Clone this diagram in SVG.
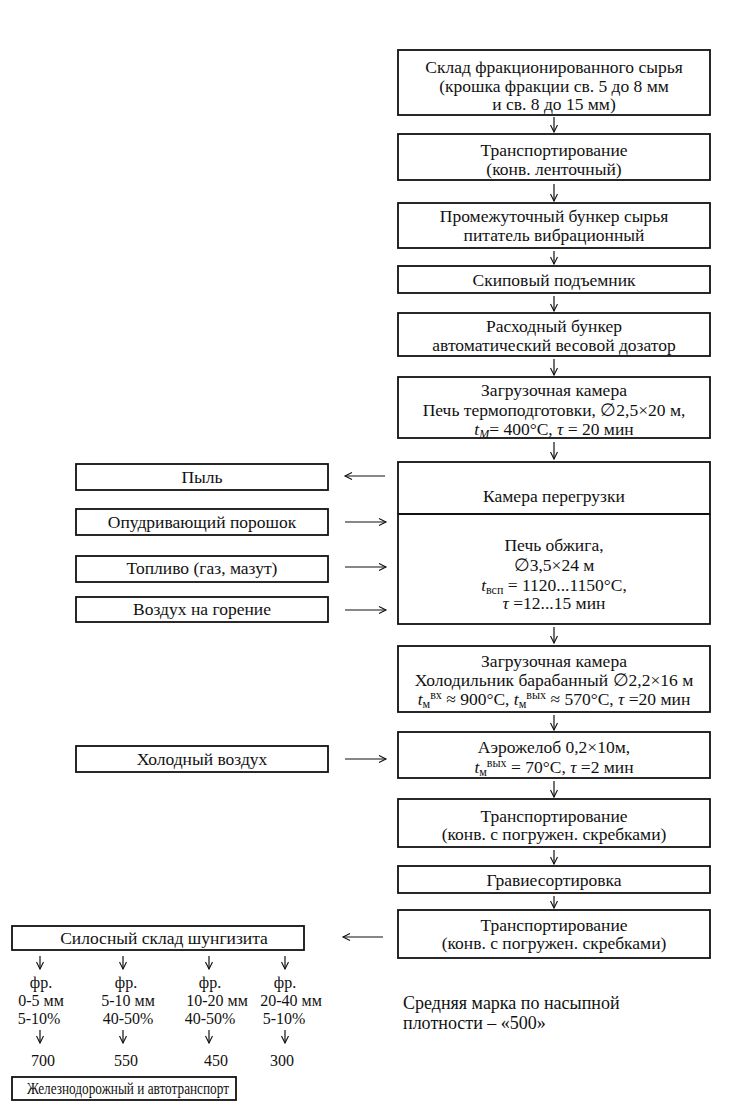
<svg xmlns="http://www.w3.org/2000/svg" width="730" height="1113" viewBox="0 0 730 1113">
<style>
text{font-family:"Liberation Serif","Times New Roman",serif;font-size:17.5px;fill:#111;text-anchor:middle}
.b{fill:#fff;stroke:#111;stroke-width:1.8}
.c{fill:none;stroke:#111;stroke-width:1.2}
.s{font-size:12px}
.l{text-anchor:start;font-size:18px}
.f{font-size:16px}
</style>
<defs>
<marker id="a" markerWidth="10" markerHeight="10" refX="8" refY="4" orient="auto" markerUnits="userSpaceOnUse">
<path d="M1,0.5 L8,4 L1,7.5" fill="none" stroke="#111" stroke-width="1.1"/>
</marker>
</defs>
<rect width="730" height="1113" fill="#fff"/>
<g id="n1"><rect class="b" x="398" y="50" width="312" height="65"/><text x="554" y="73">Склад фракционированного сырья</text><text x="554" y="92">(крошка фракции св. 5 до 8 мм</text><text x="554" y="110">и св. 8 до 15 мм)</text></g>
<g id="n2"><rect class="b" x="398" y="134" width="312" height="46"/><text x="554" y="156">Транспортирование</text><text x="554" y="175">(конв. ленточный)</text></g>
<g id="n3"><rect class="b" x="398" y="203" width="312" height="45"/><text x="554" y="222">Промежуточный бункер сырья</text><text x="554" y="241">питатель вибрационный</text></g>
<g id="n4"><rect class="b" x="398" y="266" width="312" height="27"/><text x="554" y="286">Скиповый подъемник</text></g>
<g id="n5"><rect class="b" x="398" y="313" width="312" height="43"/><text x="554" y="332">Расходный бункер</text><text x="554" y="351">автоматический весовой дозатор</text></g>
<g id="n6"><rect class="b" x="398" y="377" width="312" height="61"/><text x="554" y="396">Загрузочная камера</text><text x="554" y="416">Печь термоподготовки, ∅2,5×20 м,</text><text x="554" y="435"><tspan font-style="italic">t<tspan class="s" dy="3">M</tspan></tspan><tspan dy="-3">= 400°C, </tspan><tspan font-style="italic">τ</tspan> = 20 мин</text></g>
<g id="n7"><rect class="b" x="398" y="462" width="312" height="162"/><line class="b" x1="398" y1="514" x2="710" y2="514"/><text x="554" y="502">Камера перегрузки</text><text x="554" y="551">Печь обжига,</text><text x="554" y="571">∅3,5×24 м</text><text x="554" y="591"><tspan font-style="italic">t</tspan><tspan class="s" dy="3">всп</tspan><tspan dy="-3"> = 1120...1150°C,</tspan></text><text x="554" y="609"><tspan font-style="italic">τ</tspan> =12...15 мин</text></g>
<g id="n8"><rect class="b" x="398" y="646" width="312" height="66"/><text x="554" y="667">Загрузочная камера</text><text x="554" y="686">Холодильник барабанный ∅2,2×16 м</text><text x="554" y="705"><tspan font-style="italic">t</tspan><tspan class="s" dy="3">м</tspan><tspan class="s" dy="-9">вх</tspan><tspan dy="6"> ≈ 900°C, </tspan><tspan font-style="italic">t</tspan><tspan class="s" dy="3">м</tspan><tspan class="s" dy="-9">вых</tspan><tspan dy="6"> ≈ 570°C, </tspan><tspan font-style="italic">τ</tspan> =20 мин</text></g>
<g id="n9"><rect class="b" x="398" y="732" width="312" height="46"/><text x="554" y="753">Аэрожелоб 0,2×10м,</text><text x="554" y="773"><tspan font-style="italic">t</tspan><tspan class="s" dy="3">м</tspan><tspan class="s" dy="-9">вых</tspan><tspan dy="6"> = 70°C, </tspan><tspan font-style="italic">τ</tspan> =2 мин</text></g>
<g id="n10"><rect class="b" x="398" y="799" width="312" height="48"/><text x="554" y="822">Транспортирование</text><text x="554" y="840">(конв. с погружен. скребками)</text></g>
<g id="n11"><rect class="b" x="398" y="866" width="312" height="27"/><text x="554" y="886">Гравиесортировка</text></g>
<g id="n12"><rect class="b" x="398" y="910" width="312" height="48"/><text x="554" y="931">Транспортирование</text><text x="554" y="949">(конв. с погружен. скребками)</text></g>
<g id="l1"><rect class="b" x="76" y="464" width="252" height="26"/><text x="202" y="483">Пыль</text></g>
<g id="l2"><rect class="b" x="76" y="509" width="252" height="26"/><text x="202" y="528">Опудривающий порошок</text></g>
<g id="l3"><rect class="b" x="76" y="556" width="252" height="26"/><text x="202" y="574">Топливо (газ, мазут)</text></g>
<g id="l4"><rect class="b" x="76" y="597" width="252" height="25"/><text x="202" y="615">Воздух на горение</text></g>
<g id="l5"><rect class="b" x="76" y="746" width="252" height="26"/><text x="202" y="765">Холодный воздух</text></g>
<g id="silo"><rect class="b" x="12" y="926" width="292" height="24"/><text x="164" y="944">Силосный склад шунгизита</text></g>
<g id="fr1"><text class="f" x="41" y="988">фр.</text><text class="f" x="41" y="1006">0-5 мм</text><text class="f" x="39" y="1024">5-10%</text><text class="f" x="43" y="1066">700</text></g>
<g id="fr2"><text class="f" x="126" y="988">фр.</text><text class="f" x="128" y="1006">5-10 мм</text><text class="f" x="128" y="1024">40-50%</text><text class="f" x="126" y="1066">550</text></g>
<g id="fr3"><text class="f" x="210" y="988">фр.</text><text class="f" x="217" y="1006">10-20 мм</text><text class="f" x="210" y="1024">40-50%</text><text class="f" x="216" y="1066">450</text></g>
<g id="fr4"><text class="f" x="285" y="988">фр.</text><text class="f" x="291" y="1006">20-40 мм</text><text class="f" x="284" y="1024">5-10%</text><text class="f" x="282" y="1066">300</text></g>
<g id="trans"><rect class="b" x="12" y="1077" width="224" height="23"/><text x="128" y="1094" font-size="17" textLength="202" lengthAdjust="spacingAndGlyphs">Железнодорожный и автотранспорт</text></g>
<g id="note"><text class="l" x="403" y="1009">Средняя марка по насыпной</text><text class="l" x="403" y="1029">плотности – «500»</text></g>
<g id="connectors">
<path class="c" marker-end="url(#a)" d="M554,117 V132"/>
<path class="c" marker-end="url(#a)" d="M554,184 V201"/>
<path class="c" marker-end="url(#a)" d="M554,251 V264"/>
<path class="c" marker-end="url(#a)" d="M554,296 V311"/>
<path class="c" marker-end="url(#a)" d="M554,359 V375"/>
<path class="c" marker-end="url(#a)" d="M554,442 V459"/>
<path class="c" marker-end="url(#a)" d="M554,627 V643"/>
<path class="c" marker-end="url(#a)" d="M554,715 V730"/>
<path class="c" marker-end="url(#a)" d="M554,781 V797"/>
<path class="c" marker-end="url(#a)" d="M554,850 V864"/>
<path class="c" marker-end="url(#a)" d="M554,896 V908"/>
<path class="c" marker-end="url(#a)" d="M385,476 H345"/>
<path class="c" marker-end="url(#a)" d="M345,522 H386"/>
<path class="c" marker-end="url(#a)" d="M345,567 H386"/>
<path class="c" marker-end="url(#a)" d="M345,610 H386"/>
<path class="c" marker-end="url(#a)" d="M345,759 H386"/>
<path class="c" marker-end="url(#a)" d="M383,937 H343"/>
<path class="c" marker-end="url(#a)" d="M40,956 V969"/>
<path class="c" marker-end="url(#a)" d="M123,956 V969"/>
<path class="c" marker-end="url(#a)" d="M209,956 V969"/>
<path class="c" marker-end="url(#a)" d="M285,956 V969"/>
<path class="c" marker-end="url(#a)" d="M40,1030 V1043"/>
<path class="c" marker-end="url(#a)" d="M123,1030 V1043"/>
<path class="c" marker-end="url(#a)" d="M209,1030 V1043"/>
<path class="c" marker-end="url(#a)" d="M285,1030 V1043"/>
</g>
</svg>
